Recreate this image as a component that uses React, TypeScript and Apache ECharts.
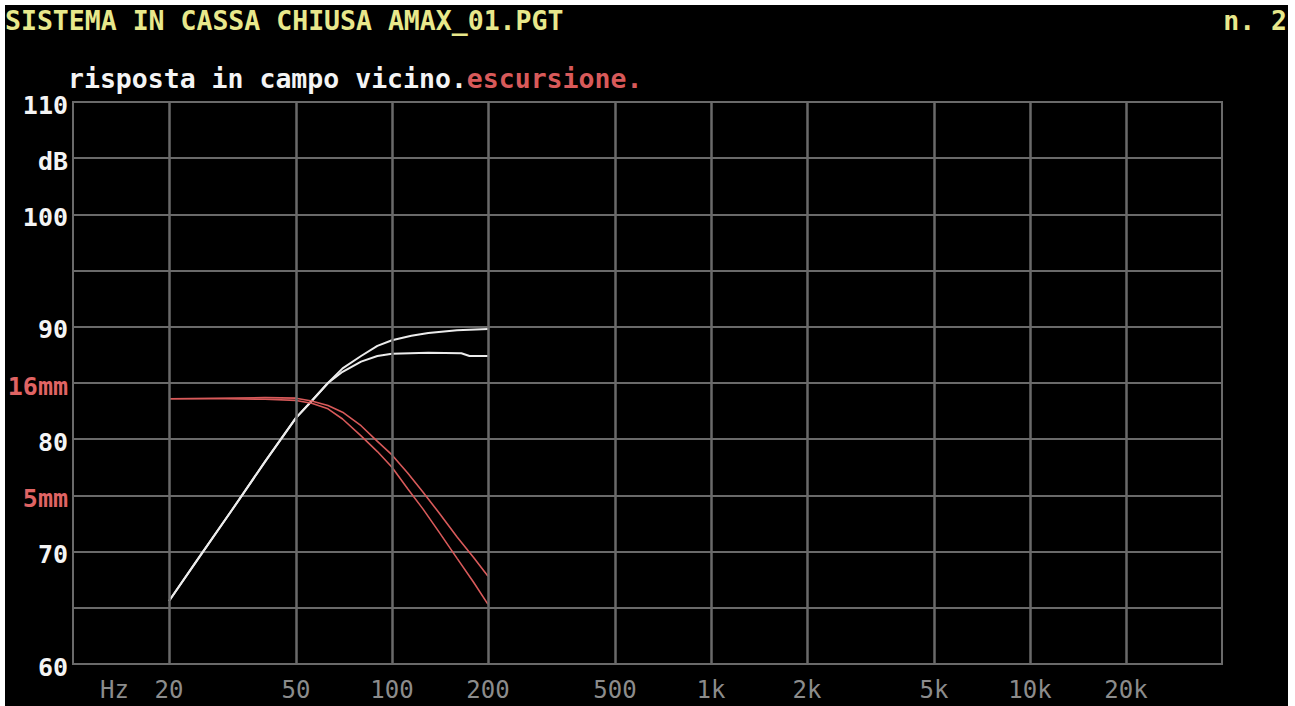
import React, { useEffect, useRef } from "react";
import * as echarts from "echarts";

// ---- data ----
const freqGrid = [20, 50, 100, 200, 500, 1000, 2000, 5000, 10000, 20000];
const freqLabels = ["20", "50", "100", "200", "500", "1k", "2k", "5k", "10k", "20k"];
const yTickValues = [60, 65, 70, 75, 80, 85, 90, 95, 100, 105, 110];
const yTickLabels = ["60", "", "70", "5mm", "80", "16mm", "90", "", "100", "dB", "110"];
const redTicks = ["5mm", "16mm"];

const whiteUpper: [number, number][] = [
  [20, 65.6], [25, 69.6], [31.5, 73.7], [40, 78.0], [50, 81.9], [56, 83.4], [63, 85.0],
  [70, 86.3], [80, 87.4], [90, 88.3], [100, 88.8], [115, 89.2], [130, 89.45], [160, 89.7], [200, 89.8],
];
const whiteLower: [number, number][] = [
  [20, 65.6], [25, 69.6], [31.5, 73.7], [40, 78.0], [50, 81.9], [56, 83.4], [63, 85.0],
  [70, 86.0], [80, 86.9], [90, 87.4], [100, 87.6], [130, 87.7], [165, 87.65], [175, 87.4], [200, 87.4],
];
const redSteep: [number, number][] = [
  [20, 83.6], [30, 83.6], [40, 83.55], [50, 83.45], [56, 83.2], [63, 82.7], [70, 81.8], [80, 80.3],
  [90, 78.9], [100, 77.5], [112, 75.6], [125, 73.8], [140, 71.8], [160, 69.4], [180, 67.3], [200, 65.3],
];
const redSoft: [number, number][] = [
  [20, 83.6], [40, 83.7], [50, 83.65], [56, 83.4], [63, 83.0], [70, 82.4], [80, 81.2], [90, 79.8],
  [100, 78.6], [112, 77.0], [125, 75.3], [140, 73.5], [160, 71.3], [180, 69.5], [200, 67.8],
];

const FONT = '"DejaVu Sans Mono", monospace';
const GRID_COLOR = "#6a6a6a";

export default function App() {
  const ref = useRef<HTMLDivElement>(null);
  useEffect(() => {
    if (!ref.current) return;
    const chart = echarts.init(ref.current, null, { renderer: "svg" });
    const labelFor = (v: number) => {
      const i = yTickValues.indexOf(Math.round(v));
      return i >= 0 ? yTickLabels[i] : "";
    };
    chart.setOption({
      animation: false,
      backgroundColor: "#000000",
      grid: {
        left: 73, right: 73, top: 102, bottom: 42,
        show: true, borderColor: GRID_COLOR, borderWidth: 2,
      },
      xAxis: {
        type: "log", logBase: 10, min: 10, max: 40000,
        axisLine: { show: false },
        axisTick: { show: false },
        splitLine: { show: false },
        minorSplitLine: { show: false },
        axisLabel: {
          customValues: freqGrid,
          formatter: (v: number) => {
            const i = freqGrid.findIndex((f) => Math.abs(f - v) / f < 0.01);
            return i >= 0 ? freqLabels[i] : "";
          },
          color: "#8c8c8c",
          fontFamily: FONT,
          fontSize: 24,
          lineHeight: 24,
          margin: 14,
        },
      },
      yAxis: {
        type: "value", min: 60, max: 110, interval: 5,
        axisLine: { show: false },
        axisTick: { show: false },
        splitLine: { show: true, lineStyle: { color: GRID_COLOR, width: 2 } },
        axisLabel: {
          formatter: (v: number) => {
            const t = labelFor(v);
            return redTicks.includes(t) ? `{r|${t}}` : `{w|${t}}`;
          },
          margin: 5,
          rich: {
            w: { color: "#f4f4f4", fontFamily: FONT, fontWeight: "bold", fontSize: 25, padding: [6, 0, 0, 0] },
            r: { color: "#e06464", fontFamily: FONT, fontWeight: "bold", fontSize: 25, padding: [6, 0, 0, 0] },
          },
        },
      },
      graphic: [
        { type: "rect", shape: { x: 0, y: 0, width: 1295, height: 5 }, style: { fill: "#ffffff" }, z: 100 },
        { type: "rect", shape: { x: 0, y: 0, width: 5, height: 706 }, style: { fill: "#ffffff" }, z: 100 },
        { type: "rect", shape: { x: 1288, y: 0, width: 7, height: 706 }, style: { fill: "#ffffff" }, z: 100 },
        {
          type: "text", x: 5, y: 20,
          style: { text: "SISTEMA IN CASSA CHIUSA AMAX_01.PGT", fill: "#e8e88c", font: `bold 26.5px ${FONT}`, textAlign: "left", textVerticalAlign: "middle" },
        },
        {
          type: "text", x: 1287, y: 20,
          style: { text: "n. 2", fill: "#e8e88c", font: `bold 26.5px ${FONT}`, textAlign: "right", textVerticalAlign: "middle" },
        },
        {
          type: "text", x: 68, y: 78,
          style: {
            text: "{w|risposta in campo vicino.}{r|escursione.}",
            textAlign: "left", textVerticalAlign: "middle",
            rich: {
              w: { fill: "#f4f4f4", font: `bold 26.5px ${FONT}` },
              r: { fill: "#d85a5a", font: `bold 26.5px ${FONT}` },
            },
          },
        },
        {
          type: "text", x: 100, y: 690,
          style: { text: "Hz", fill: "#8c8c8c", font: `24px ${FONT}`, textAlign: "left", textVerticalAlign: "middle" },
        },
      ],
      series: [
        {
          type: "line", data: [], silent: true,
          markLine: {
            silent: true, symbol: "none", label: { show: false },
            lineStyle: { color: GRID_COLOR, width: 2.5, type: "solid" },
            data: freqGrid.map((f) => ({ xAxis: f })),
          },
        },
        { type: "line", data: whiteUpper, showSymbol: false, lineStyle: { color: "#ececec", width: 2 }, itemStyle: { color: "#ececec" } },
        { type: "line", data: whiteLower, showSymbol: false, lineStyle: { color: "#ececec", width: 2 }, itemStyle: { color: "#ececec" } },
        { type: "line", data: redSteep, showSymbol: false, lineStyle: { color: "#d85a5a", width: 1.6 }, itemStyle: { color: "#d85a5a" } },
        { type: "line", data: redSoft, showSymbol: false, lineStyle: { color: "#d85a5a", width: 1.6 }, itemStyle: { color: "#d85a5a" } },
      ],
    });
    return () => chart.dispose();
  }, []);
  return (
    <div style={{ position: "fixed", left: 0, top: 0, width: 1295, height: 706 }}>
      <div ref={ref} style={{ width: 1295, height: 706 }} />
    </div>
  );
}
